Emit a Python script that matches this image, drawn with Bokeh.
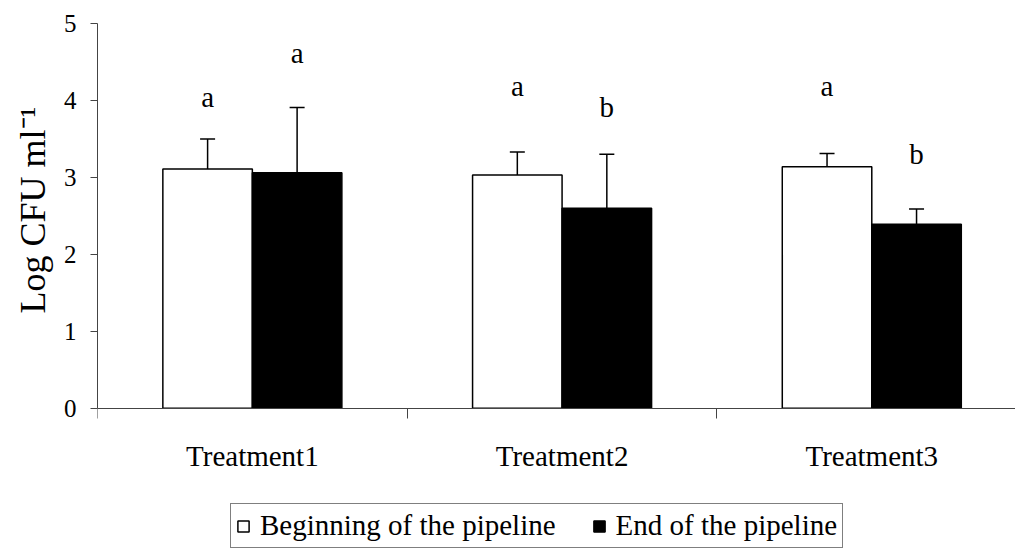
from bokeh.plotting import figure
from bokeh.models import (Range1d, FixedTicker, Whisker, ColumnDataSource, Legend,
                          LegendItem, TeeHead)
from bokeh.core.properties import value
from bokeh.embed import file_html
from bokeh.resources import INLINE

# ---- data ----
categories = ["Treatment1", "Treatment2", "Treatment3"]
series_names = ["Beginning of the pipeline", "End of the pipeline"]
begin_mean = [3.11, 3.03, 3.14]
begin_err = [0.39, 0.30, 0.17]
end_mean = [3.06, 2.60, 2.39]
end_err = [0.85, 0.70, 0.20]
begin_letters = ["a", "a", "a"]
end_letters = ["a", "b", "b"]
begin_letter_y = [4.04, 4.19, 4.19]
end_letter_y = [4.62, 3.91, 3.31]
y_ticks = [0, 1, 2, 3, 4, 5]
y_label = "Log CFU ml\u207b\u00b9"

FONT = "Liberation Serif"
FS = "29px"
AXIS_COLOR = "#444444"
BAR_W = 0.289

n = len(categories)
centers = [i + 0.5 for i in range(n)]
xb = [c - BAR_W / 2 for c in centers]
xe = [c + BAR_W / 2 for c in centers]

# frame spans the full lower area so the legend can sit inside it;
# y = 0 .. 5 occupies the upper 385 px, the x axis is pinned at y = 0
p = figure(width=1015, height=552, x_range=Range1d(0, 2.964), y_range=Range1d(-1.874, 5),
           output_backend="svg", toolbar_location=None,
           title=y_label, title_location="left",
           min_border_left=97, min_border_right=0, min_border_top=23, min_border_bottom=0)
p.outline_line_color = None
p.xgrid.grid_line_color = None
p.ygrid.grid_line_color = None
p.background_fill_color = "white"
p.border_fill_color = "white"

# y-axis title (kept as a vertical title so it can be positioned along the axis)
p.title.align = "left"
p.title.offset = 239
p.title.standoff = 16
p.title.text_font = FONT
p.title.text_font_size = "36px"
p.title.text_font_style = "normal"
p.title.text_color = "black"

r1 = p.vbar(x=xb, top=begin_mean, width=BAR_W, bottom=0, fill_color="white",
            line_color="black", line_width=1.5)
r2 = p.vbar(x=xe, top=end_mean, width=BAR_W, bottom=0, fill_color="black",
            line_color="black", line_width=1.5)

for xs, m, e in ((xb, begin_mean, begin_err), (xe, end_mean, end_err)):
    src = ColumnDataSource(dict(x=xs, upper=[a + b for a, b in zip(m, e)],
                                lower=[a - b for a, b in zip(m, e)]))
    w = Whisker(base="x", upper="upper", lower="lower", source=src,
                line_color="black", line_width=1.5,
                upper_head=TeeHead(size=15, line_color="black", line_width=1.5),
                lower_head=TeeHead(size=15, line_color="black", line_width=1.5))
    p.add_layout(w)

for xs, ys, t in ((xb, begin_letter_y, begin_letters), (xe, end_letter_y, end_letters)):
    p.text(x=xs, y=ys, text=t, text_font=value(FONT), text_font_size=value(FS),
           text_align="center", text_baseline="middle", text_color="black")

# x axis (pinned at y = 0)
xa = p.xaxis[0]
xa.fixed_location = 0
xa.ticker = FixedTicker(ticks=centers, minor_ticks=list(range(n + 1)))
xa.major_label_overrides = {c: lab for c, lab in zip(centers, categories)}
xa.major_tick_out = 0
xa.major_tick_in = 0
xa.minor_tick_out = 10
xa.minor_tick_in = 0
xa.minor_tick_line_color = AXIS_COLOR
xa.axis_line_color = AXIS_COLOR
xa.major_label_text_font = FONT
xa.major_label_text_font_size = FS
xa.major_label_text_color = "black"
xa.major_label_standoff = 22

# y axis
ya = p.yaxis[0]
ya.bounds = (y_ticks[0], y_ticks[-1])
ya.ticker = FixedTicker(ticks=y_ticks)
ya.major_tick_out = 7
ya.major_tick_in = 0
ya.minor_tick_line_color = None
ya.axis_line_color = AXIS_COLOR
ya.major_tick_line_color = AXIS_COLOR
ya.major_label_text_font = FONT
ya.major_label_text_font_size = "25px"
ya.major_label_text_color = "black"
ya.major_label_standoff = 14

legend = Legend(items=[LegendItem(label=series_names[0], renderers=[r1]),
                       LegendItem(label=series_names[1], renderers=[r2])],
                orientation="horizontal", location=(133, 4),
                label_text_font=FONT, label_text_font_size=FS, label_text_color="black",
                glyph_width=14, glyph_height=14, label_standoff=10, spacing=36,
                padding=5, margin=0, border_line_color="black", border_line_width=1,
                background_fill_color="white", background_fill_alpha=1)
p.add_layout(legend)

open("out.html", "w").write(file_html(p, INLINE))
